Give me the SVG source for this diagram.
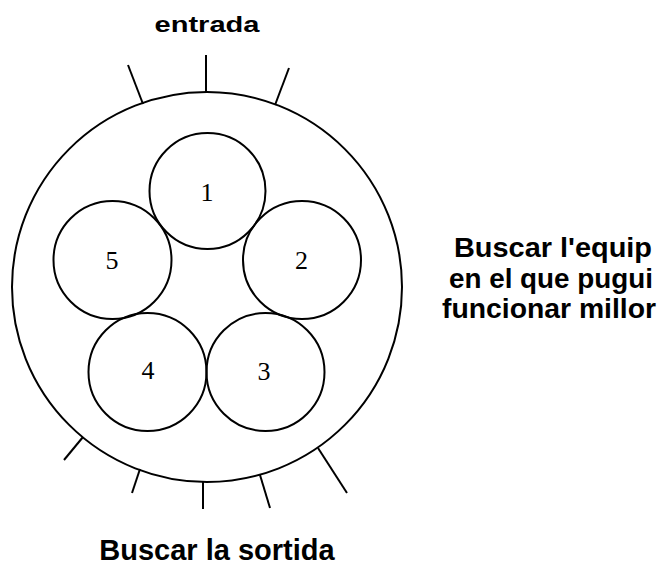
<svg xmlns="http://www.w3.org/2000/svg" width="663" height="565" viewBox="0 0 663 565">
<style>
.c{fill:none;stroke:#000;stroke-width:2}
.t{stroke:#000;stroke-width:2;fill:none}
.n{font-family:"Liberation Serif",serif;font-size:26px;fill:#000;text-anchor:middle}
.b{font-family:"Liberation Sans",Arial,sans-serif;font-weight:bold;fill:#000;text-anchor:middle}
</style>
<rect width="663" height="565" fill="#fff"/>
<g id="outer"><circle class="c" cx="207" cy="287" r="195"/></g>
<g id="node1"><circle class="c" cx="207.5" cy="191" r="58"/><text class="n" x="207" y="201">1</text></g>
<g id="node2"><circle class="c" cx="302" cy="260" r="59"/><text class="n" x="301.5" y="269">2</text></g>
<g id="node3"><circle class="c" cx="265.5" cy="372" r="59"/><text class="n" x="264" y="380">3</text></g>
<g id="node4"><circle class="c" cx="147.5" cy="372" r="59"/><text class="n" x="148" y="379">4</text></g>
<g id="node5"><circle class="c" cx="112.5" cy="260" r="59"/><text class="n" x="112" y="269">5</text></g>
<g id="connectors">
<line class="t" x1="206" y1="55" x2="206" y2="93"/>
<line class="t" x1="128" y1="65" x2="143" y2="104"/>
<line class="t" x1="289" y1="68" x2="275" y2="105"/>
<line class="t" x1="64" y1="460" x2="83" y2="437"/>
<line class="t" x1="132" y1="493" x2="140" y2="469"/>
<line class="t" x1="203" y1="509" x2="203" y2="481"/>
<line class="t" x1="270" y1="508" x2="260" y2="475"/>
<line class="t" x1="347" y1="493" x2="318" y2="448"/>
</g>
<text class="b" x="207" y="32" font-size="22" textLength="105" lengthAdjust="spacingAndGlyphs">entrada</text>
<text class="b" x="553" y="257" font-size="27" textLength="198" lengthAdjust="spacingAndGlyphs">Buscar l'equip</text>
<text class="b" x="551" y="288" font-size="27" textLength="204" lengthAdjust="spacingAndGlyphs">en el que pugui</text>
<text class="b" x="549" y="318" font-size="27" textLength="214" lengthAdjust="spacingAndGlyphs">funcionar millor</text>
<text class="b" x="217" y="560" font-size="29">Buscar la sortida</text>
</svg>
